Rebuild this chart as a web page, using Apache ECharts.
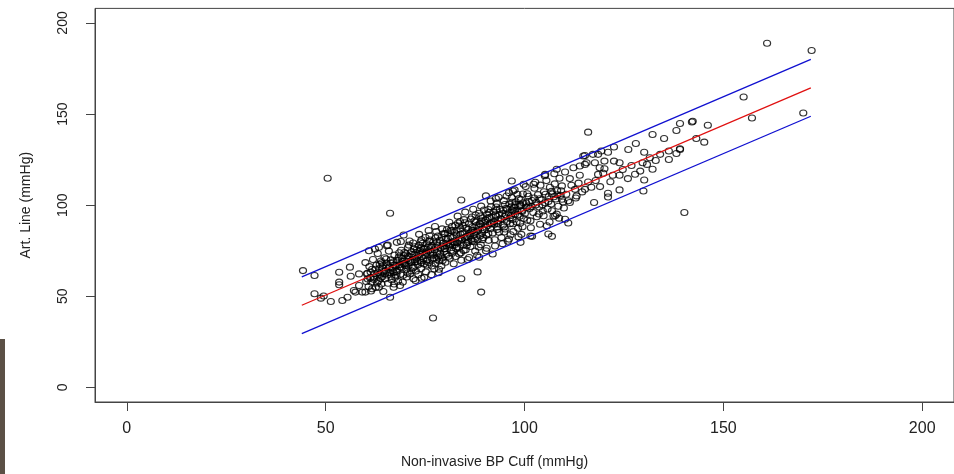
<!DOCTYPE html>
<html>
<head>
<meta charset="utf-8">
<script src="https://cdn.jsdelivr.net/npm/echarts@6/dist/echarts.min.js"></script>
<style>html,body{margin:0;padding:0;background:#fff;}#chart{width:954px;height:474px;}</style>
</head>
<body>
<div id="chart"></div>
<script>
// Tick labels
const xTicks = [0, 50, 100, 150, 200];
const yTicks = [0, 50, 100, 150, 200];

// Scatter readings [non-invasive cuff, arterial line] (mmHg)
const lowTail = [
[44.3,64.1],[47.2,61.4],[47.2,51.4],[48.8,49.0],[51.3,47.2],[54.2,47.7],[55.5,49.5],[53.4,63.2],[56.1,66.0],[58.4,62.3],
[53.4,57.8],[53.4,56.3],[56.3,61.0],[58.4,55.9],[57.5,52.3],[60.0,52.3],[60.4,62.3],[60.9,75.0],[63.4,76.9],[65.4,77.8],
[66.2,95.6],[50.5,114.8],[59.2,52.3],[61.7,54.1],[63.4,55.0],[66.2,49.5],[67.1,55.0],[68.7,55.9],[72.1,59.6],[74.1,59.9],
[77.0,38.1],[84.1,59.6],[84.1,102.9],[89.1,52.3],[88.2,63.4],[69.6,83.6],[67.9,79.6],[90.3,105.1],[92.8,103.7],[96.8,113.3],
[97.1,107.8],[96.1,106.9],[98.2,106.0],[105.6,88.7],[106.9,82.9],[106.0,84.2],[101.9,82.9],[99.0,79.6],[96.1,81.4],[92.0,73.2],
[90.3,75.0],[88.6,71.4],[57.1,53.2],[49.5,50.2]
];
const core60s = [
[60.2,58.1],[60.5,62.7],[60.8,55.4],[61.0,66.3],[61.2,60.1],[61.5,57.9],[61.7,64.8],[61.9,70.2],[62.1,59.3],[62.3,62.5],
[62.6,54.8],[62.8,67.1],[63.0,61.0],[63.1,73.5],[63.3,58.6],[63.5,65.2],[63.7,62.2],[63.9,69.4],[64.0,56.7],[64.2,60.8],
[64.4,66.9],[64.6,63.5],[64.8,71.2],[65.0,59.6],[65.1,64.1],[65.3,68.3],[65.5,61.7],[65.7,57.2],[65.9,74.8],[66.0,66.0],
[66.2,62.9],[66.4,70.0],[66.6,59.1],[66.8,65.4],[67.0,68.8],[67.1,63.0],[67.3,72.6],[67.5,60.4],[67.7,66.7],[67.9,69.9],
[68.0,64.3],[68.2,58.2],[68.4,71.5],[68.6,67.4],[68.8,62.1],[69.0,75.3],[69.1,65.8],[69.3,69.1],[69.5,61.6],[69.7,72.4],
[69.9,67.0],[60.0,68.5],[61.4,52.9],[62.4,76.0],[64.5,52.6],[65.6,78.2],[67.2,56.8],[68.9,80.1],[69.4,57.8],[63.6,67.6]
];
const core70s = [
[70.0,68.2],[70.1,73.4],[70.3,64.9],[70.5,70.7],[70.7,76.8],[70.8,66.5],[71.0,71.9],[71.2,62.3],[71.4,68.6],[71.6,74.5],
[71.8,70.1],[72.0,79.3],[72.1,66.0],[72.3,72.8],[72.5,68.9],[72.7,63.9],[72.9,75.6],[73.0,71.2],[73.2,67.3],[73.4,77.9],
[73.6,73.0],[73.8,69.5],[74.0,65.2],[74.1,81.0],[74.3,74.2],[74.5,70.6],[74.7,67.8],[74.9,76.3],[75.0,72.5],[75.2,63.4],
[75.4,78.8],[75.6,70.0],[75.8,74.9],[76.0,68.4],[76.1,83.2],[76.3,72.7],[76.5,77.1],[76.7,66.6],[76.9,73.8],[77.1,79.9],
[77.2,70.9],[77.4,75.5],[77.6,68.1],[77.8,85.6],[78.0,74.0],[78.1,78.2],[78.3,71.6],[78.5,64.8],[78.7,80.7],[78.9,76.4],
[79.0,72.3],[79.2,82.4],[79.4,69.7],[79.6,77.3],[79.8,74.6],[70.4,60.6],[71.1,80.4],[72.6,58.7],[73.5,84.0],[74.8,60.5],
[75.9,86.1],[76.6,61.9],[77.5,88.3],[78.4,62.9],[79.3,87.0],[70.9,78.1],[72.2,75.9],[73.3,62.0],[74.4,79.1],[75.5,67.2],
[76.2,80.9],[77.3,65.0],[78.6,69.4],[79.7,84.5],[71.5,64.0],[73.9,76.5],[75.1,82.3],[76.8,70.3],[78.2,83.1],[79.1,66.8]
];
const core80s = [
[80.0,76.1],[80.2,81.5],[80.4,73.0],[80.6,79.2],[80.8,84.7],[81.0,77.6],[81.2,70.9],[81.4,82.8],[81.6,75.3],[81.8,88.4],
[82.0,80.0],[82.1,74.7],[82.3,85.1],[82.5,78.5],[82.7,71.8],[82.9,83.6],[83.1,79.4],[83.3,90.2],[83.5,76.8],[83.7,82.0],
[83.9,86.9],[84.0,73.9],[84.2,80.8],[84.4,84.3],[84.6,78.0],[84.8,92.1],[85.0,81.9],[85.2,75.6],[85.4,87.5],[85.6,83.0],
[85.8,79.6],[86.0,89.8],[86.2,84.6],[86.4,77.4],[86.6,81.2],[86.8,93.5],[87.0,86.1],[87.2,79.9],[87.4,83.9],[87.6,74.8],
[87.8,90.7],[88.0,85.4],[88.2,81.0],[88.4,88.0],[88.6,95.6],[88.8,83.1],[89.0,78.3],[89.2,91.4],[89.4,86.7],[89.6,82.2],
[89.8,97.4],[80.1,68.7],[81.1,90.6],[82.2,67.9],[83.2,94.0],[84.1,69.8],[85.1,96.2],[86.1,71.3],[87.1,97.8],[88.1,72.5],
[89.1,99.5],[80.5,86.6],[81.5,79.0],[82.6,89.0],[83.6,73.2],[84.5,88.9],[85.5,77.9],[86.5,92.4],[87.5,81.5],[88.5,77.0],
[89.5,93.1],[80.9,72.0],[82.8,76.3],[84.7,75.1],[86.7,86.0],[88.7,90.0],[81.7,85.9],[83.8,91.1],[85.7,70.2],[87.7,94.6]
];
const core90s = [
[90.0,86.4],[90.2,91.8],[90.4,83.5],[90.6,95.0],[90.8,88.9],[91.0,80.7],[91.2,93.3],[91.4,87.1],[91.6,99.2],[91.8,90.0],
[92.0,84.8],[92.2,96.4],[92.4,89.6],[92.6,77.6],[92.8,93.9],[93.0,101.0],[93.2,88.0],[93.4,91.5],[93.6,85.2],[93.8,97.7],
[94.0,92.6],[94.2,82.3],[94.4,95.4],[94.6,89.1],[94.8,102.5],[95.0,93.8],[95.2,86.9],[95.4,98.3],[95.6,91.0],[95.8,80.2],
[96.0,95.9],[96.2,100.6],[96.4,89.9],[96.6,94.4],[96.8,104.2],[97.0,92.1],[97.2,85.5],[97.4,98.8],[97.6,95.1],[97.8,101.9],
[98.0,90.8],[98.2,97.0],[98.4,87.3],[98.6,103.6],[98.8,94.0],[99.0,99.7],[99.2,84.0],[99.4,96.5],[99.6,106.1],[99.8,92.7],
[90.5,76.4],[91.5,102.3],[92.5,81.0],[93.5,104.4],[94.5,78.9],[95.5,105.0],[96.5,83.8],[97.5,108.4],[98.5,82.6],[99.5,88.2],
[90.9,97.6],[92.9,99.0],[94.9,88.0],[96.9,97.2],[98.9,100.5]
];
const coreDense = [
[62.0,60.5],[62.5,64.8],[63.2,63.0],[63.8,59.9],[64.3,65.7],[64.9,62.4],[65.4,66.8],[65.8,63.1],[66.3,68.1],[66.9,64.2],
[67.4,67.0],[67.8,63.6],[68.3,69.6],[68.7,66.1],[69.2,70.8],[69.6,67.9],[70.2,66.9],[70.6,72.3],[71.3,69.4],[71.7,72.9],
[72.4,70.2],[72.8,73.9],[73.1,69.1],[73.7,75.2],[74.2,71.8],[74.6,75.9],[75.3,73.7],[75.7,77.0],[76.4,74.3],[76.8,77.8],
[77.0,72.6],[77.7,76.9],[78.0,79.6],[78.8,73.3],[79.5,79.1],[79.9,76.2],[80.3,77.9],[80.7,81.7],[81.3,78.4],[81.9,82.3],
[82.4,79.6],[82.9,86.2],[83.4,80.6],[83.9,84.1],[84.3,81.4],[84.9,85.0],[85.3,82.6],[85.9,86.7],[86.3,83.2],[86.9,88.2],
[87.3,85.0],[87.9,88.9],[88.3,86.3],[88.9,89.7],[89.3,84.6],[89.9,90.8],[90.3,88.0],[90.7,92.6],[91.3,89.9],[91.7,93.7],
[92.3,91.0],[92.7,94.8],[93.3,90.1],[93.7,95.0],[94.3,92.2],[94.7,97.1],[95.3,94.6],[95.7,98.0],[96.3,93.0],[96.7,99.2],
[97.3,96.6],[97.7,100.3],[98.3,94.7],[98.7,99.4],[99.3,97.1],[99.7,101.3],[100.5,98.8],[101.1,102.0],[101.7,99.3],[102.4,104.0],
[103.0,101.6],[103.8,103.5],[104.5,100.2],[105.3,106.0],[106.0,102.0],[106.8,107.6],[107.4,104.6],[108.3,105.7],[109.2,107.9],[64.1,68.4],
[66.5,60.9],[68.5,73.9],[70.6,62.8],[72.4,77.2],[74.0,68.6],[76.0,80.1],[77.9,70.2],[80.0,84.4],[81.8,73.6],[83.5,88.6],
[85.4,79.3],[87.4,91.3],[89.4,81.1],[91.1,96.0],[93.1,86.6],[95.1,100.4],[97.1,89.8],[99.1,103.0],[60.6,59.5],[61.3,63.3],
[62.9,57.3],[65.2,70.5],[67.6,61.7],[69.8,74.0],[71.9,65.6],[73.9,79.9],[75.3,69.2],[77.6,82.0],[79.3,71.0],[81.4,86.3],
[83.0,77.0],[85.0,90.4],[86.9,80.3],[88.9,94.1],[90.9,84.5],[92.9,97.3],[94.9,85.3],[96.9,101.6],[98.9,90.1],[100.7,106.3]
];
const mid100s = [
[100.1,95.4],[100.4,101.2],[100.7,91.8],[101.0,104.9],[101.3,98.2],[101.6,87.6],[101.9,102.6],[102.2,96.0],[102.5,109.3],[102.8,100.1],
[103.1,93.7],[103.4,105.8],[103.7,99.0],[104.0,111.0],[104.3,102.9],[104.6,96.8],[104.9,107.4],[105.2,101.3],[105.5,113.5],[105.8,97.9],
[106.1,104.6],[106.4,109.8],[106.7,100.6],[107.0,106.2],[107.3,93.9],[107.6,111.7],[107.9,103.4],[108.2,108.0],[108.5,99.4],[108.8,114.8],
[109.1,105.4],[109.4,110.6],[109.7,101.8],[100.3,110.2],[101.5,83.1],[102.7,112.6],[103.9,89.5],[105.1,116.2],[106.3,90.8],[107.5,117.3],
[108.7,92.9],[109.9,98.5],[100.9,99.6],[103.6,95.2],[106.9,97.0],[101.5,91.4],[104.8,94.2],[107.7,94.2],[102.3,111.5],[99.8,111.5]
];
const upper110s = [
[108.1,95.1],[110.2,92.3],[111.0,90.2],[109.4,103.3],[111.0,102.4],[113.1,105.1],[112.7,108.7],[111.4,114.6],[110.2,118.2],[112.3,120.6],
[113.9,121.5],[113.9,116.4],[115.2,108.7],[116.0,112.7],[117.5,101.5],[121.0,104.5],[121.0,106.6],[123.9,108.4],[129.9,107.8],[130.1,113.8],
[126.0,114.6],[123.9,116.4],[122.2,116.4],[120.1,120.0],[118.5,116.9],[118.9,120.6],[115.6,123.3],[117.7,123.3],[120.1,124.2],[122.5,124.2],
[123.9,123.3],[129.1,118.7],[132.2,119.7],[130.8,122.4],[129.7,123.3],[136.3,125.1],[139.1,130.6],[136.3,129.7],[134.1,127.9],[130.1,129.1],
[114.8,127.0],[118.5,127.9],[121.0,129.1],[122.5,131.9],[126.1,130.6],[128.0,133.9],[138.2,141.0],[142.1,145.7],[139.1,144.8],[135.1,136.6],
[132.2,138.8],[116.0,140.1],[140.2,96.0],[115.2,127.3],[117.2,127.9],[119.3,129.7],[115.2,122.4],[111.4,101.5],[108.1,119.7],[105.2,116.9],
[143.2,136.6],[145.2,134.6],[139.1,131.0],[138.2,128.4],[146.1,143.9],[142.3,146.1],[155.1,159.4],[157.2,147.9],[170.1,150.6],[161.0,188.9],
[172.2,184.9],[110.5,106.0],[111.8,110.9],[112.9,104.0],[113.6,112.1],[114.5,107.3],[116.8,109.9],[117.9,113.6],[119.0,110.2],[119.8,117.5],
[121.6,112.9],[124.7,119.6],[126.9,121.8],[127.8,117.0],[131.5,126.0],[133.0,124.5]
];

// Fitted line and prediction band end points
const fitLine = [[44, 45.1], [172, 164.4]];
const upperBand = [[44, 60.7], [172, 180.0]];
const lowerBand = [[44, 29.5], [172, 148.8]];

const allPoints = [].concat(lowTail, core60s, core70s, core80s, core90s, coreDense, mid100s, upper110s);

const chart = echarts.init(document.getElementById('chart'), null, {renderer: 'canvas'});
const font = 'Liberation Sans, Arial, sans-serif';
chart.setOption({
  animation: false,
  backgroundColor: '#ffffff',
  grid: {left: 95, top: 8.4, width: 868.3, height: 397.5, show: true, borderColor: '#444', borderWidth: 1, backgroundColor: 'transparent'},
  xAxis: {
    type: 'value', min: -8, max: 208,
    name: 'Non-invasive BP Cuff (mmHg)', nameLocation: 'middle', nameGap: 53,
    nameTextStyle: {fontFamily: font, fontSize: 14, color: '#222', padding: [0, 60, 0, 0]},
    axisLine: {show: true, onZero: false, lineStyle: {color: '#444', width: 1}},
    axisTick: {show: true, length: 9, customValues: xTicks, lineStyle: {color: '#444'}},
    axisLabel: {customValues: xTicks, margin: 19, fontFamily: font, fontSize: 16, color: '#222'},
    splitLine: {show: false}
  },
  yAxis: {
    type: 'value', min: -8, max: 208,
    name: 'Art. Line (mmHg)', nameLocation: 'middle', nameGap: 62, nameRotate: 90,
    nameTextStyle: {fontFamily: font, fontSize: 14, color: '#222'},
    axisLine: {show: true, onZero: false, lineStyle: {color: '#444', width: 1}},
    axisTick: {show: true, length: 9, customValues: yTicks, lineStyle: {color: '#444'}},
    axisLabel: {customValues: yTicks, rotate: 90, margin: 25, fontFamily: font, fontSize: 14, color: '#222', align: 'center', verticalAlign: 'bottom'},
    splitLine: {show: false}
  },
  graphic: [{type: 'rect', left: 0, top: 339, shape: {width: 5, height: 135}, style: {fill: '#5b5046'}, silent: true}],
  series: [
    {type: 'scatter', data: allPoints, symbol: 'circle', symbolSize: [7, 6],
     itemStyle: {color: 'rgba(0,0,0,0)', borderColor: '#000', borderWidth: 1.15}, silent: true},
    {type: 'line', data: fitLine, showSymbol: false, lineStyle: {color: '#e01010', width: 1.3}, silent: true},
    {type: 'line', data: upperBand, showSymbol: false, lineStyle: {color: '#1010d0', width: 1.3}, silent: true},
    {type: 'line', data: lowerBand, showSymbol: false, lineStyle: {color: '#1010d0', width: 1.3}, silent: true}
  ]
});
</script>
</body>
</html>
